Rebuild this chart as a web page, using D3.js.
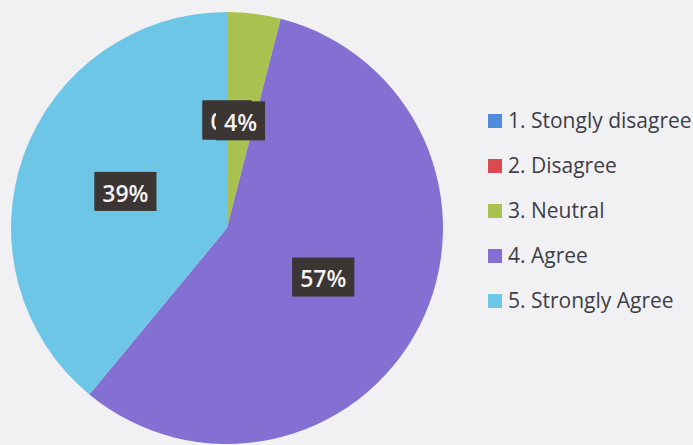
<!DOCTYPE html>
<html>
<head>
<meta charset="utf-8">
<script src="https://cdn.jsdelivr.net/npm/d3@7"></script>
<style>
  html, body { margin: 0; padding: 0; background: #f1f1f4; }
  svg { display: block; }
</style>
</head>
<body>
<svg id="chart" width="693" height="445"></svg>
<script>
const categories = ["1. Stongly disagree", "2. Disagree", "3. Neutral", "4. Agree", "5. Strongly Agree"];
const values = [0, 0, 4, 57, 39];
const labels = ["0%", "0%", "4%", "57%", "39%"];
const colors = ["#4f8ddc", "#dc4a4f", "#a9c24f", "#8470d2", "#6ec6e6"];

const svg = d3.select("#chart");
const W = 693, H = 445;
const cx = 227, cy = 228, r = 216;

const color = d3.scaleOrdinal().domain(categories).range(colors);

const pie = d3.pie().sort(null).value(d => d.value).startAngle(0).endAngle(2 * Math.PI);
const data = categories.map((c, i) => ({ cat: c, value: values[i], label: labels[i] }));
const arcs = pie(data);

const arc = d3.arc().innerRadius(0).outerRadius(r);
const labelArc = d3.arc().innerRadius(r * 0.5).outerRadius(r * 0.5);

const g = svg.append("g").attr("transform", `translate(${cx},${cy})`);

g.selectAll("path.slice")
  .data(arcs)
  .join("path")
  .attr("class", "slice")
  .attr("d", arc)
  .attr("fill", d => color(d.data.cat));

// labels (drawn in series order so later labels cover earlier, as in the reference)
const fontFam = "'Open Sans', 'Liberation Sans', sans-serif";
arcs.forEach(d => {
  const [lx, ly] = labelArc.centroid(d);
  const lg = g.append("g").attr("transform", `translate(${lx},${ly})`);
  const rect = lg.append("rect").attr("fill", "#3b3533");
  const t = lg.append("text")
    .attr("text-anchor", "middle")
    .attr("dy", "0.36em")
    .attr("y", 2)
    .attr("fill", "#f4f2f2")
    .style("font-family", fontFam)
    .style("font-size", "23px")
    .style("font-weight", "600")
    .text(d.data.label);
  const w = t.node().getComputedTextLength();
  const bw = w + 16, bh = 39;
  rect.attr("x", -bw / 2).attr("y", -bh / 2).attr("width", bw).attr("height", bh);
});

// legend
const legendY = d3.scalePoint().domain(categories).range([121, 301]);
const lg = svg.append("g");
const items = lg.selectAll("g.item")
  .data(categories)
  .join("g")
  .attr("class", "item")
  .attr("transform", d => `translate(488,${legendY(d)})`);
items.append("rect")
  .attr("x", 0).attr("y", -7)
  .attr("width", 14).attr("height", 14)
  .attr("fill", d => color(d));
items.append("text")
  .attr("x", 20).attr("y", 0)
  .attr("dy", "0.35em")
  .attr("fill", "#3e3e46")
  .style("font-family", fontFam)
  .style("font-size", "21px")
  .text(d => d);
</script>
</body>
</html>
